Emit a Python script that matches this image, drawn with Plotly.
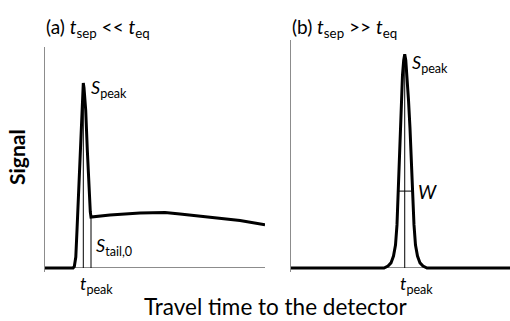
import plotly.graph_objects as go

# Panel (a): fast separation, peak followed by a long tail
a_x = [0, 12.73, 13.32, 13.73, 14.0, 14.55, 15.14, 16.05, 16.68, 17.09, 17.41, 17.73, 18.18,
       18.5, 19.23, 20.14, 20.59, 20.91, 22.73, 29.55, 43.18, 54.55, 61.36, 75.0, 88.64, 100]
a_y = [0, 0, 0.68, 2.71, 4.98, 17.19, 30.77, 53.39, 71.49, 79.64, 83.71, 81.45, 76.02,
       71.49, 53.39, 30.77, 25.34, 23.08, 23.3, 24.0, 24.9, 25.1, 24.4, 23.1, 21.5, 19.5]
a_tpeak = 17.41
a_speak = 83.71
a_ttail = 20.91
a_stail = 23.08

# Panel (b): slow separation, a single narrow peak
b_x = [0, 42.27, 44.09, 45.45, 46.59, 47.5, 48.18, 48.64, 49.09, 49.55, 50.0, 50.68, 51.23,
       51.7, 52.17, 52.72, 53.41, 54.09, 54.68, 55.23, 55.91, 56.59, 57.5, 58.64, 60.0, 61.82, 99.55]
b_y = [0, 0, 0.9, 2.3, 5.4, 10.4, 19.5, 33.0, 48.9, 63.3, 76.0, 87.3, 94.1,
       96.8, 94.1, 87.3, 76.0, 63.3, 48.9, 33.0, 19.5, 10.4, 5.4, 2.3, 0.9, 0, 0]
b_tpeak = 51.7
b_speak = 96.8
b_w_x = [48.6, 55.5]
b_w_y = 34.8

FONT = "Lato"
BLACK = "#000000"
GREY = "#8c8c8c"

fig = go.Figure()
curve = dict(color=BLACK, width=3)
thin = dict(color=BLACK, width=1)
fig.add_trace(go.Scatter(x=a_x, y=a_y, mode="lines", line=curve, xaxis="x", yaxis="y"))
fig.add_trace(go.Scatter(x=[a_tpeak, a_tpeak], y=[0, a_speak], mode="lines", line=thin, xaxis="x", yaxis="y"))
fig.add_trace(go.Scatter(x=[a_ttail, a_ttail], y=[0, a_stail], mode="lines", line=thin, xaxis="x", yaxis="y"))

fig.add_trace(go.Scatter(x=b_x, y=b_y, mode="lines", line=curve, xaxis="x2", yaxis="y2"))
fig.add_trace(go.Scatter(x=[b_tpeak, b_tpeak], y=[0, b_speak], mode="lines", line=thin, xaxis="x2", yaxis="y2"))
fig.add_trace(go.Scatter(x=b_w_x, y=[b_w_y, b_w_y], mode="lines", line=thin, xaxis="x2", yaxis="y2"))

W, H = 510, 321
def px(x):
    return x / W
def py(y):
    return 1 - y / H

ax_common = dict(showgrid=False, showticklabels=False, ticks="", fixedrange=True)
yax = dict(showline=True, linecolor=GREY, linewidth=1, zeroline=True, zerolinecolor=GREY, zerolinewidth=1,
           **ax_common)
fig.update_layout(
    width=W, height=H,
    margin=dict(l=0, r=0, t=0, b=0),
    paper_bgcolor="white", plot_bgcolor="white",
    showlegend=False,
    hovermode=False,
    xaxis=dict(domain=[px(45), px(265)], range=[0, 100], anchor="y", zeroline=False, **ax_common),
    yaxis=dict(domain=[py(272.4), py(47)], range=[-2, 100], anchor="x", **yax),
    xaxis2=dict(domain=[px(291), 1.0], range=[0, 99.55], anchor="y2", zeroline=False, **ax_common),
    yaxis2=dict(domain=[py(272.4), py(40)], range=[-2, 103.2], anchor="x2", **yax),
    font=dict(family=FONT, color=BLACK),
)

def ann(text, x, y, size, xanchor="left", yanchor="middle", textangle=0):
    fig.add_annotation(text=text, x=px(x), y=py(y), xref="paper", yref="paper", showarrow=False,
                       xanchor=xanchor, yanchor=yanchor, font=dict(family=FONT, size=size, color=BLACK),
                       textangle=textangle)

ann("(a) <i>t</i><sub>sep</sub> &lt;&lt; <i>t</i><sub>eq</sub>", 44, 28, 19)
ann("(b) <i>t</i><sub>sep</sub> &gt;&gt; <i>t</i><sub>eq</sub>", 290, 28, 19)
ann("<i>S</i><sub>peak</sub>", 89, 88, 18)
ann("<i>S</i><sub>peak</sub>", 410, 63, 18)
ann("<i>S</i><sub>tail,0</sub>", 94, 246, 18)
ann("<i>t</i><sub>peak</sub>", 78, 284, 18)
ann("<i>t</i><sub>peak</sub>", 398, 284, 18)
ann("<i>W</i>", 416, 192, 19)
ann("<b>Signal</b>", 17, 157, 21, xanchor="center", textangle=-90)
ann("Travel time to the detector", 276, 306.5, 22.5, xanchor="center")

fig.write_html("out.html", config={"displayModeBar": False, "staticPlot": True},
               post_script="document.body.style.margin='0';document.body.style.overflow='hidden';")
